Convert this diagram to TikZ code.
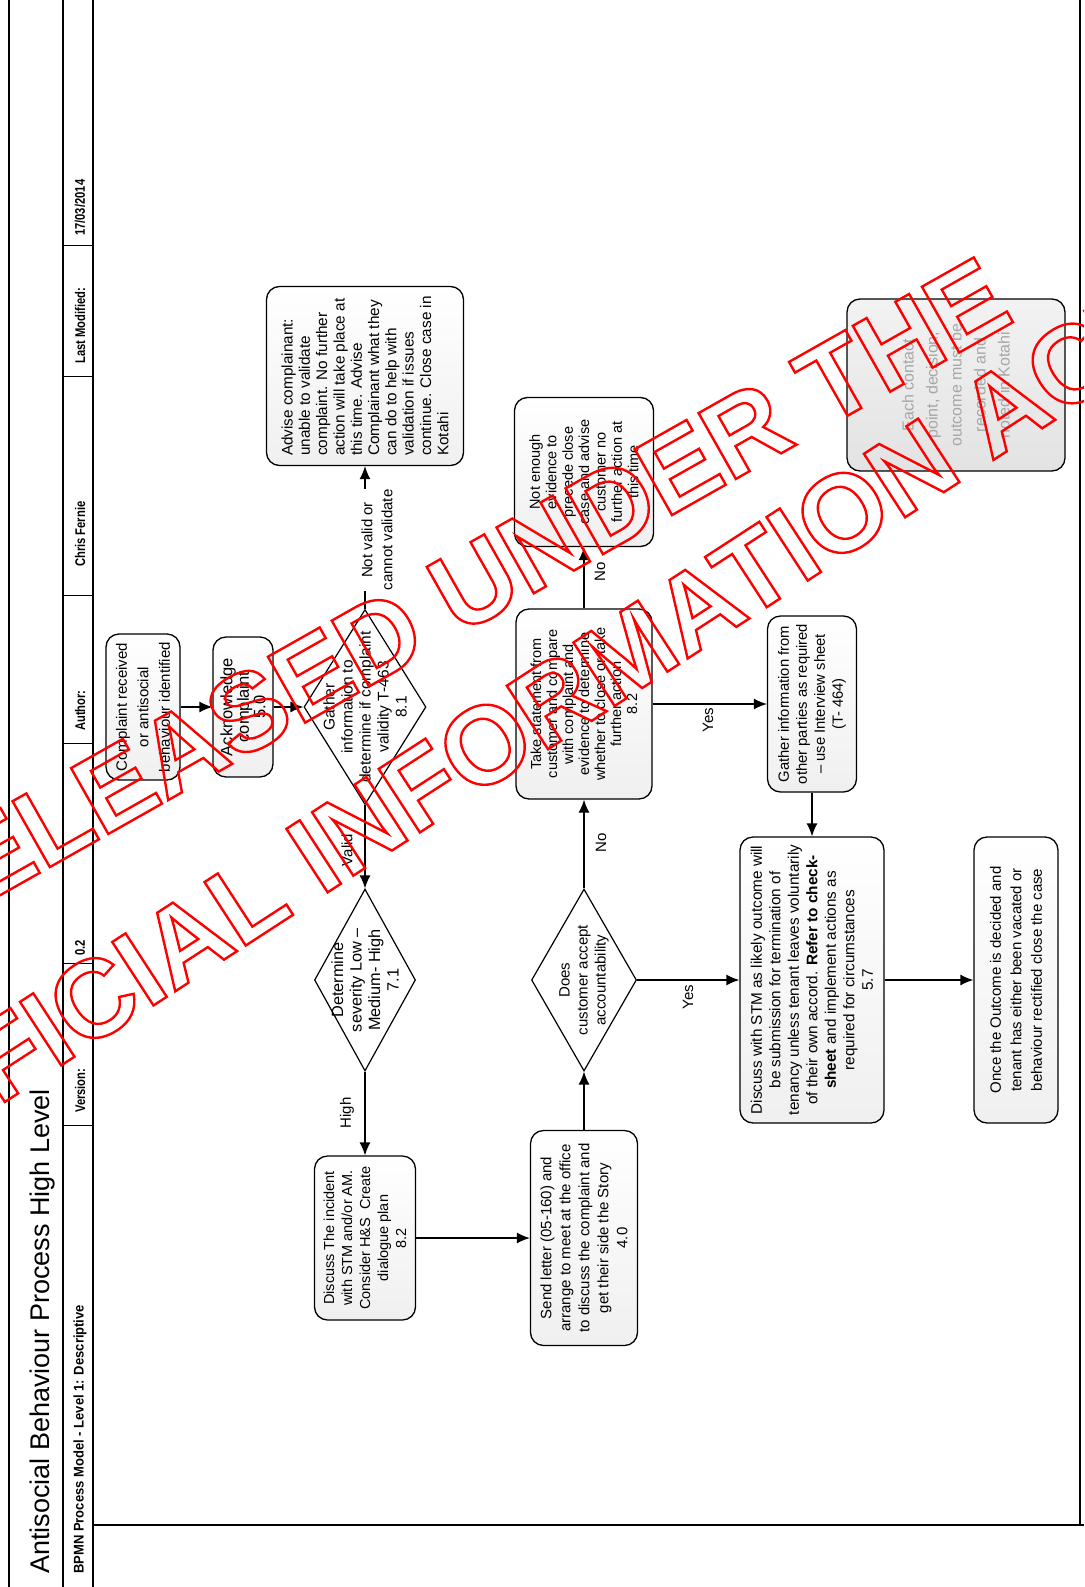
\documentclass[tikz,border=0pt]{standalone}
\usepackage{fontspec}
\setmainfont{Liberation Sans}
\usetikzlibrary{shapes.geometric,arrows.meta}
\newcommand*{\hollow}[1]{\special{pdf:literal direct 1 Tr 2.4 w}#1\special{pdf:literal direct 0 Tr}}
\newcommand*{\narrowtxt}[1]{\scalebox{0.8}[1]{#1}}

\begin{document}
\begin{tikzpicture}[x=1pt, y=-1pt,
    box/.style={draw, line width=1.3pt, rounded corners=13pt, rotate=90, align=center,
      top color=white, bottom color=gray!12, inner sep=3pt, font=\fontsize{14.5}{18}\selectfont},
    decision/.style={draw, diamond, line width=1.2pt, rotate=90, align=center, fill=white,
      inner sep=-40pt, font=\fontsize{15}{18}\selectfont},
    lbl/.style={rotate=90, align=center, inner sep=1pt, font=\fontsize{15}{20}\selectfont},
    flow/.style={-{Latex[length=13pt,width=11pt]}, line width=1.3pt},
    hdr/.style={rotate=90, anchor=west, inner sep=0pt, font=\bfseries\fontsize{14}{14}\selectfont},
    stamp/.style={text=red, inner sep=0pt, font=\bfseries\fontsize{110}{110}\selectfont}]
    \useasboundingbox (0,0) rectangle (1084,1587);

    % frame and title block
    \draw[line width=1.2pt] (9,0) -- (9,1587);
    \draw[line width=1.2pt] (63,0) -- (63,1587);
    \draw[line width=1.2pt] (93,0) -- (93,1587);
    \draw[line width=1.2pt] (1080,0) -- (1080,1525);
    \draw[line width=1.2pt] (93,1525) -- (1084,1525);
    \foreach \y in {245,376,595,743,963,1125} {
            \draw[line width=1pt] (63,\y) -- (93,\y);
        }
    \node[rotate=90, anchor=base west, inner sep=0pt, font=\fontsize{27}{27}\selectfont] (title) at (49,1574) {Antisocial Behaviour Process High Level};
    \node[hdr] (hdr-model) at (80,1574) {\scalebox{0.93}[1]{BPMN Process Model - Level 1: Descriptive}};
    \node[hdr] (hdr-version) at (80,1113) {\narrowtxt{Version:}};
    \node[hdr] (hdr-versionval) at (80,956) {\narrowtxt{0.2}};
    \node[hdr] (hdr-author) at (80,731) {\narrowtxt{Author:}};
    \node[hdr] (hdr-authorval) at (80,567) {\narrowtxt{Chris Fernie}};
    \node[hdr] (hdr-modified) at (80,364) {\narrowtxt{Last Modified:}};
    \node[hdr] (hdr-modifiedval) at (80,236) {\narrowtxt{17/03/2014}};

    % process steps
    \node[box, minimum width=146pt, minimum height=74pt, font=\fontsize{15}{21.5}\selectfont] (complaint) at (143,707) {Complaint received\\or antisocial\\behaviour identified};
    \node[box, minimum width=140pt, minimum height=60pt, inner sep=1pt, font=\fontsize{16.5}{16.5}\selectfont] (ack) at (243,707) {Acknowledge\\complaint\\5.0};
    \node[decision, minimum width=195pt, minimum height=122pt, font=\fontsize{15.5}{18}\selectfont] (gather) at (365,707) {Gather\\information to\\determine if complaint\\validity T-463\\8.1};
    \node[box, align=left, minimum width=179pt, minimum height=197pt, font=\fontsize{15.3}{17.3}\selectfont] (advise) at (365,376) {Advise complainant:\\unable to validate\\complaint. No further\\action will take place at\\this time. Advise\\Complainant what they\\can do to help with\\validation if issues\\continue. Close case in\\Kotahi};
    \node[decision, minimum width=182pt, minimum height=101pt, font=\fontsize{16.3}{18.5}\selectfont] (severity) at (365,980) {Determine\\severity Low –\\Medium- High\\7.1};
    \node[box, minimum width=164pt, minimum height=101pt] (discuss) at (365,1238) {Discuss The incident\\with STM and/or AM.\\Consider H\&S\ \ Create\\dialogue plan\\8.2};
    \node[box, minimum width=215pt, minimum height=107pt, font=\fontsize{15}{19}\selectfont] (letter) at (584,1238) {Send letter (05-160) and\\arrange to meet at the office\\to discuss the complaint and\\get their side the Story\\4.0};
    \node[decision, minimum width=182pt, minimum height=105pt] (accept) at (584,980) {Does\\customer accept\\accountability};
    \node[box, minimum width=190pt, minimum height=136pt, font=\fontsize{14.5}{16}\selectfont] (statement) at (584,704) {Take statement from\\customer and compare\\with complaint and\\evidence to determine\\whether to close or take\\further action\\8.2};
    \node[box, minimum width=149pt, minimum height=139pt, font=\fontsize{14.5}{16.4}\selectfont] (noevid) at (584,472) {Not enough\\evidence to\\precede close\\case and advise\\customer no\\further action at\\this time};
    \node[box, minimum width=176pt, minimum height=89pt, font=\fontsize{14.8}{18}\selectfont] (others) at (812,704) {Gather information from\\other parties as required\\– use Interview sheet\\(T- 464)};
    \node[box, minimum width=286pt, minimum height=144pt, font=\fontsize{15.3}{18.5}\selectfont] (stm) at (812,980) {Discuss with STM as likely outcome will\\be submission for termination of\\tenancy unless tenant leaves voluntarily\\of their own accord. \textbf{Refer to check-}\\\textbf{sheet} and implement actions as\\required for circumstances\\5.7};
    \node[box, minimum width=286pt, minimum height=84pt, font=\fontsize{15}{20.5}\selectfont] (outcome) at (1016,980) {Once the Outcome is decided and\\tenant has either been vacated or\\behaviour rectified close the case};
    \node[box, minimum width=172pt, minimum height=218pt, top color=gray!10, bottom color=gray!22, text=gray!70, font=\fontsize{16}{24}\selectfont] (record) at (956,385) {Each contact\\point, decision,\\outcome must be\\recorded and\\noted in Kotahi};

    % flows
    \draw[flow] (complaint) -- (ack);
    \draw[flow] (ack) -- (gather);
    \draw[flow] (gather) -- (advise);
    \node[lbl, fill=white] (notvalid) at (377,540) {Not valid or\\cannot validate};
    \draw[flow] (gather) -- (severity);
    \node[lbl] (valid) at (347,850) {Valid};
    \draw[flow] (severity) -- (discuss);
    \node[lbl] (high) at (347,1113) {High};
    \draw[flow] (discuss) -- (letter);
    \draw[flow] (letter) -- (accept);
    \draw[flow] (accept) -- (statement);
    \node[lbl] (no-accept) at (601,843) {No};
    \draw[flow] (statement) -- (noevid);
    \node[lbl] (no-evidence) at (600,572) {No};
    \draw[flow] (statement) -- (others);
    \node[lbl] (yes-others) at (708,720) {Yes};
    \draw[flow] (others) -- (stm);
    \draw[flow] (accept) -- (stm);
    \node[lbl] (yes-accept) at (688,997) {Yes};
    \draw[flow] (stm) -- (outcome);

    % release stamp
    \begin{scope}
        \clip (0,0) rectangle (1084,1587);
        \node[stamp, rotate=29.5] (stamp-top) at (445,600) {\hollow{RELEASED UNDER THE}};
        \node[stamp, rotate=33] (stamp-bottom) at (505,732) {\hollow{OFFICIAL INFORMATION ACT}};
    \end{scope}
\end{tikzpicture}
\end{document}
